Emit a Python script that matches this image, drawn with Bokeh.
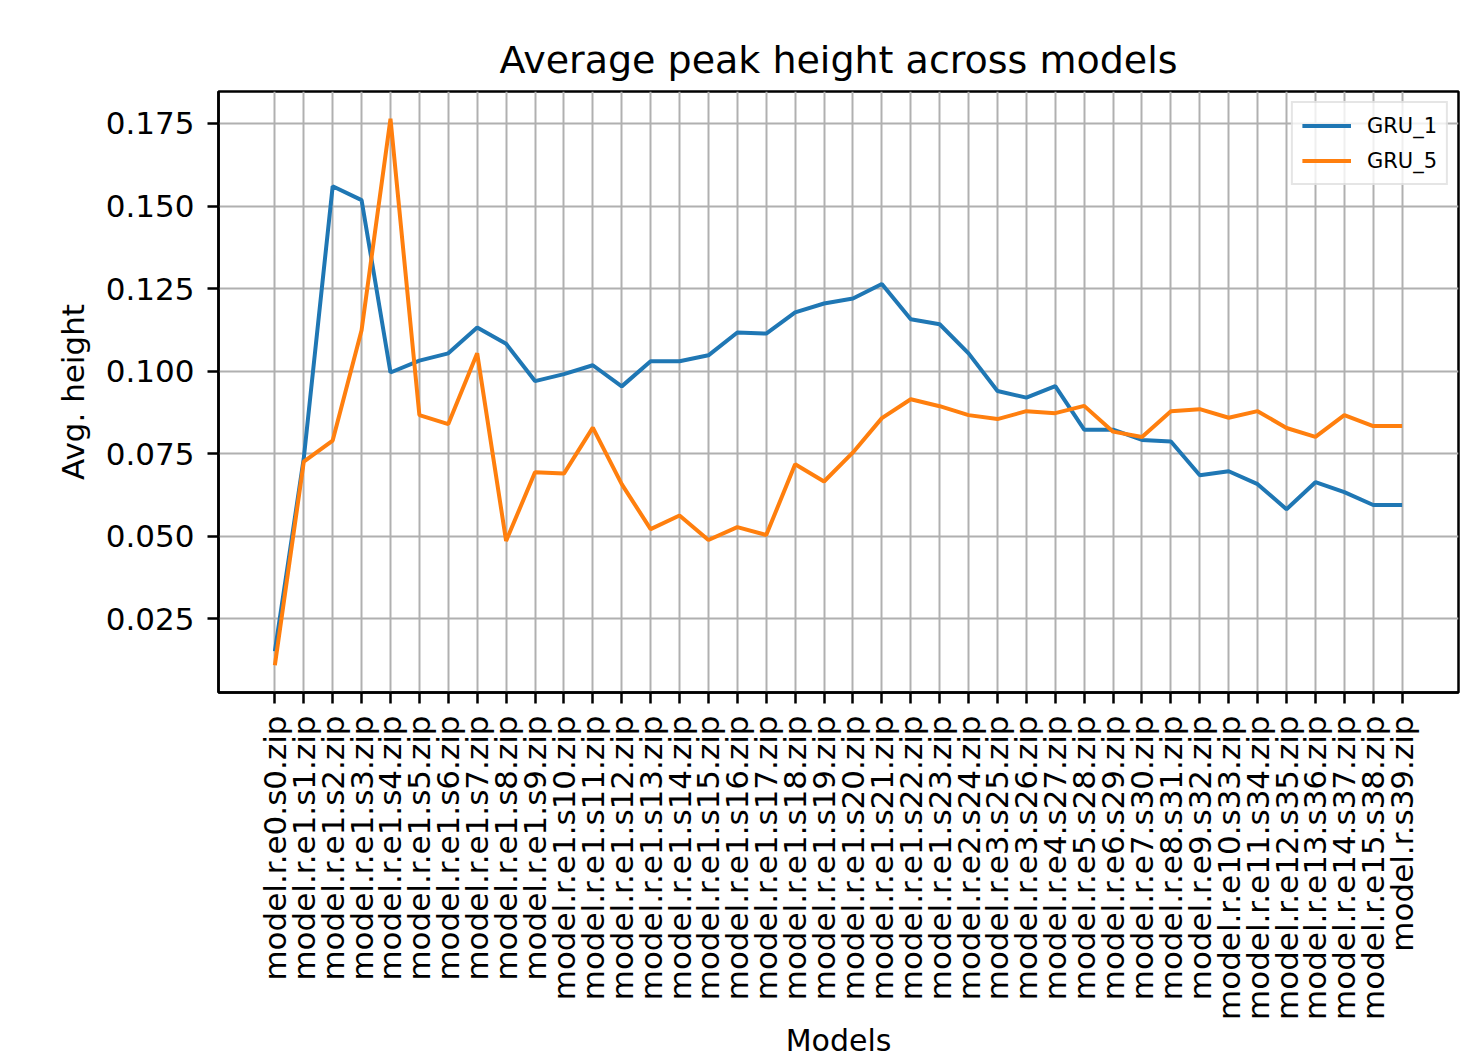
from bokeh.plotting import figure
from bokeh.models import FixedTicker, NumeralTickFormatter, Range1d, Legend, LegendItem
from bokeh.embed import file_html
from bokeh.resources import INLINE
import math

# ---------------- data ----------------
models = [
    "model.r.e0.s0.zip", "model.r.e1.s1.zip", "model.r.e1.s2.zip", "model.r.e1.s3.zip",
    "model.r.e1.s4.zip", "model.r.e1.s5.zip", "model.r.e1.s6.zip", "model.r.e1.s7.zip",
    "model.r.e1.s8.zip", "model.r.e1.s9.zip", "model.r.e1.s10.zip", "model.r.e1.s11.zip",
    "model.r.e1.s12.zip", "model.r.e1.s13.zip", "model.r.e1.s14.zip", "model.r.e1.s15.zip",
    "model.r.e1.s16.zip", "model.r.e1.s17.zip", "model.r.e1.s18.zip", "model.r.e1.s19.zip",
    "model.r.e1.s20.zip", "model.r.e1.s21.zip", "model.r.e1.s22.zip", "model.r.e1.s23.zip",
    "model.r.e2.s24.zip", "model.r.e3.s25.zip", "model.r.e3.s26.zip", "model.r.e4.s27.zip",
    "model.r.e5.s28.zip", "model.r.e6.s29.zip", "model.r.e7.s30.zip", "model.r.e8.s31.zip",
    "model.r.e9.s32.zip", "model.r.e10.s33.zip", "model.r.e11.s34.zip", "model.r.e12.s35.zip",
    "model.r.e13.s36.zip", "model.r.e14.s37.zip", "model.r.e15.s38.zip", "model.r.s39.zip",
]

gru_1 = [
    0.0152, 0.0736, 0.1560, 0.1518, 0.0996, 0.1032, 0.1054, 0.1132, 0.1083, 0.0970,
    0.0991, 0.1018, 0.0954, 0.1030, 0.1030, 0.1048, 0.1117, 0.1114, 0.1178, 0.1205,
    0.1220, 0.1264, 0.1157, 0.1142, 0.1054, 0.0940, 0.0920, 0.0955, 0.0823, 0.0823,
    0.0792, 0.0787, 0.0685, 0.0697, 0.0658, 0.0582, 0.0664, 0.0634, 0.0595, 0.0595,
]

gru_5 = [
    0.0110, 0.0726, 0.0790, 0.1124, 0.1764, 0.0867, 0.0840, 0.1054, 0.0486, 0.0694,
    0.0690, 0.0829, 0.0658, 0.0522, 0.0563, 0.0489, 0.0528, 0.0504, 0.0718, 0.0666,
    0.0754, 0.0858, 0.0915, 0.0894, 0.0867, 0.0855, 0.0879, 0.0873, 0.0895, 0.0817,
    0.0801, 0.0879, 0.0885, 0.0859, 0.0879, 0.0828, 0.0801, 0.0867, 0.0834, 0.0834,
]

y_ticks = [0.025, 0.050, 0.075, 0.100, 0.125, 0.150, 0.175]

series_names = ["GRU_1", "GRU_5"]
series_colors = ["#1f77b4", "#ff7f0e"]

# ---------------- ranges (matplotlib-like 5% margins) ----------------
xs = list(range(len(models)))
x_lo, x_hi = 0, len(models) - 1
x_pad = 0.05 * (x_hi - x_lo)
all_y = gru_1 + gru_5
y_lo, y_hi = min(all_y), max(all_y)
y_pad = 0.05 * (y_hi - y_lo)
xr = Range1d(x_lo - x_pad, x_hi + x_pad)
yr = Range1d(y_lo - y_pad, y_hi + y_pad)

FONT = "DejaVu Sans"
FRAME_W, FRAME_H = 1240, 601

p = figure(
    frame_width=FRAME_W, frame_height=FRAME_H,
    min_border_left=218, min_border_right=5, min_border_top=91, min_border_bottom=369,
    x_range=xr, y_range=yr,
    output_backend="svg", toolbar_location=None,
    title="Average peak height across models",
)
p.background_fill_color = "white"
p.border_fill_color = "white"

# title
p.title.align = "center"
p.title.text_font = FONT
p.title.text_font_size = "38px"
p.title.text_font_style = "normal"
p.title.text_color = "black"
p.title.standoff = 20

# outline
p.outline_line_color = "black"
p.outline_line_width = 2.5

# axes
for ax in (p.xaxis[0], p.yaxis[0]):
    ax.axis_line_color = "black"
    ax.axis_line_width = 2.5
    ax.major_tick_line_color = "black"
    ax.major_tick_line_width = 2.5
    ax.major_tick_out = 11
    ax.major_tick_in = 0
    ax.minor_tick_line_color = None
    ax.major_label_text_font = FONT
    ax.major_label_text_color = "black"
    ax.major_label_standoff = 13
    ax.axis_label_text_font = FONT
    ax.axis_label_text_font_style = "normal"
    ax.axis_label_text_color = "black"
    ax.axis_label_text_font_size = "31px"

p.xaxis.ticker = FixedTicker(ticks=xs)
p.xaxis.major_label_overrides = {i: m for i, m in enumerate(models)}
p.xaxis.major_label_orientation = math.pi / 2
p.xaxis.major_label_text_font_size = "31px"
p.xaxis.major_label_standoff = 12
p.xaxis.axis_label = "Models"
p.xaxis.axis_label_text_font_size = "30px"
p.xaxis.axis_label_standoff = 0

p.yaxis.ticker = FixedTicker(ticks=y_ticks)
p.yaxis.formatter = NumeralTickFormatter(format="0.000")
p.yaxis.major_label_text_font_size = "31px"
p.yaxis.axis_label = "Avg. height"
p.yaxis.axis_label_standoff = 12

# grid
for g in (p.xgrid[0], p.ygrid[0]):
    g.grid_line_color = "#b0b0b0"
    g.grid_line_width = 2
p.xgrid.ticker = FixedTicker(ticks=xs)
p.ygrid.ticker = FixedTicker(ticks=y_ticks)

# lines
r1 = p.line(xs, gru_1, line_color=series_colors[0], line_width=4)
r2 = p.line(xs, gru_5, line_color=series_colors[1], line_width=4)

legend = Legend(
    items=[LegendItem(label=series_names[0], renderers=[r1]),
           LegendItem(label=series_names[1], renderers=[r2])],
    location="top_right",
)
legend.margin = 10
legend.padding = 9
legend.spacing = 8
legend.glyph_width = 49
legend.glyph_height = 27
legend.label_standoff = 16
legend.label_text_font = FONT
legend.label_text_font_size = "21px"
legend.label_text_color = "black"
legend.border_line_color = "#cccccc"
legend.border_line_width = 2
legend.background_fill_color = "white"
legend.background_fill_alpha = 0.8
p.add_layout(legend)

open("out.html", "w").write(file_html(p, INLINE))
